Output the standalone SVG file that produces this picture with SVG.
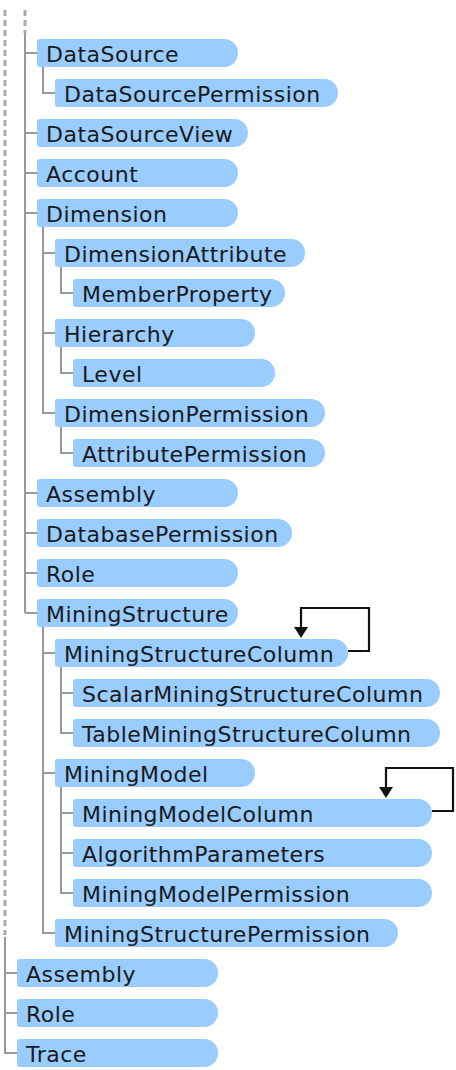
<svg xmlns="http://www.w3.org/2000/svg" width="456" height="1070" viewBox="0 0 456 1070">
<style>
.n{fill:#99ccff}
.t{font-family:"DejaVu Sans",Verdana,sans-serif;font-size:22px;letter-spacing:0.5px;fill:#1a1a1a}
.c{fill:none;stroke:#999;stroke-width:2}
.d{fill:none;stroke:#aaa;stroke-width:3;stroke-dasharray:6 4}
.l{fill:none;stroke:#111;stroke-width:2.2}
.a{fill:#111}
</style>
<rect width="456" height="1070" fill="#fff"/>
<g id="connectors">
<path class="d" d="M5,10V935"/>
<path class="d" d="M25,10V33"/>
<path class="c" d="M25,33V613M25,53H37M25,133H37M25,173H37M25,213H37M25,493H37M25,533H37M25,573H37M25,613H37"/>
<path class="c" d="M43,67V93H55"/>
<path class="c" d="M43,227V413H55M43,253H55M43,333H55"/>
<path class="c" d="M61,267V293H73M61,347V373H73M61,427V453H73"/>
<path class="c" d="M43,627V933H55M43,653H55M43,773H55"/>
<path class="c" d="M61,667V733H73M61,693H73"/>
<path class="c" d="M61,787V893H73M61,813H73M61,853H73"/>
<path class="c" d="M5,937V1053H17M5,973H17M5,1013H17"/>
<path class="l" d="M348,651H369V608H301V628"/>
<polygon class="a" points="294,627 308,627 301,638"/>
<path class="l" d="M432,811H453V768H386V788"/>
<polygon class="a" points="379,787 393,787 386,798"/>
</g>
<g id="n0"><path class="n" d="M40,39H224A14,14 0 0 1 224,67H40A3,3 0 0 1 37,64V42A3,3 0 0 1 40,39Z"/><text class="t" x="46" y="62">DataSource</text></g>
<g id="n1"><path class="n" d="M58,79H324A14,14 0 0 1 324,107H58A3,3 0 0 1 55,104V82A3,3 0 0 1 58,79Z"/><text class="t" x="64" y="102">DataSourcePermission</text></g>
<g id="n2"><path class="n" d="M40,119H234A14,14 0 0 1 234,147H40A3,3 0 0 1 37,144V122A3,3 0 0 1 40,119Z"/><text class="t" x="46" y="142">DataSourceView</text></g>
<g id="n3"><path class="n" d="M40,159H224A14,14 0 0 1 224,187H40A3,3 0 0 1 37,184V162A3,3 0 0 1 40,159Z"/><text class="t" x="46" y="182">Account</text></g>
<g id="n4"><path class="n" d="M40,199H224A14,14 0 0 1 224,227H40A3,3 0 0 1 37,224V202A3,3 0 0 1 40,199Z"/><text class="t" x="46" y="222">Dimension</text></g>
<g id="n5"><path class="n" d="M58,239H291A14,14 0 0 1 291,267H58A3,3 0 0 1 55,264V242A3,3 0 0 1 58,239Z"/><text class="t" x="64" y="262">DimensionAttribute</text></g>
<g id="n6"><path class="n" d="M76,279H271A14,14 0 0 1 271,307H76A3,3 0 0 1 73,304V282A3,3 0 0 1 76,279Z"/><text class="t" x="82" y="302">MemberProperty</text></g>
<g id="n7"><path class="n" d="M58,319H241A14,14 0 0 1 241,347H58A3,3 0 0 1 55,344V322A3,3 0 0 1 58,319Z"/><text class="t" x="64" y="342">Hierarchy</text></g>
<g id="n8"><path class="n" d="M76,359H261A14,14 0 0 1 261,387H76A3,3 0 0 1 73,384V362A3,3 0 0 1 76,359Z"/><text class="t" x="82" y="382">Level</text></g>
<g id="n9"><path class="n" d="M58,399H311A14,14 0 0 1 311,427H58A3,3 0 0 1 55,424V402A3,3 0 0 1 58,399Z"/><text class="t" x="64" y="422">DimensionPermission</text></g>
<g id="n10"><path class="n" d="M76,439H311A14,14 0 0 1 311,467H76A3,3 0 0 1 73,464V442A3,3 0 0 1 76,439Z"/><text class="t" x="82" y="462">AttributePermission</text></g>
<g id="n11"><path class="n" d="M40,479H224A14,14 0 0 1 224,507H40A3,3 0 0 1 37,504V482A3,3 0 0 1 40,479Z"/><text class="t" x="46" y="502">Assembly</text></g>
<g id="n12"><path class="n" d="M40,519H278A14,14 0 0 1 278,547H40A3,3 0 0 1 37,544V522A3,3 0 0 1 40,519Z"/><text class="t" x="46" y="542">DatabasePermission</text></g>
<g id="n13"><path class="n" d="M40,559H224A14,14 0 0 1 224,587H40A3,3 0 0 1 37,584V562A3,3 0 0 1 40,559Z"/><text class="t" x="46" y="582">Role</text></g>
<g id="n14"><path class="n" d="M40,599H224A14,14 0 0 1 224,627H40A3,3 0 0 1 37,624V602A3,3 0 0 1 40,599Z"/><text class="t" x="46" y="622">MiningStructure</text></g>
<g id="n15"><path class="n" d="M58,639H334A14,14 0 0 1 334,667H58A3,3 0 0 1 55,664V642A3,3 0 0 1 58,639Z"/><text class="t" x="64" y="662">MiningStructureColumn</text></g>
<g id="n16"><path class="n" d="M76,679H426A14,14 0 0 1 426,707H76A3,3 0 0 1 73,704V682A3,3 0 0 1 76,679Z"/><text class="t" x="82" y="702">ScalarMiningStructureColumn</text></g>
<g id="n17"><path class="n" d="M76,719H426A14,14 0 0 1 426,747H76A3,3 0 0 1 73,744V722A3,3 0 0 1 76,719Z"/><text class="t" x="82" y="742">TableMiningStructureColumn</text></g>
<g id="n18"><path class="n" d="M58,759H241A14,14 0 0 1 241,787H58A3,3 0 0 1 55,784V762A3,3 0 0 1 58,759Z"/><text class="t" x="64" y="782">MiningModel</text></g>
<g id="n19"><path class="n" d="M76,799H418A14,14 0 0 1 418,827H76A3,3 0 0 1 73,824V802A3,3 0 0 1 76,799Z"/><text class="t" x="82" y="822">MiningModelColumn</text></g>
<g id="n20"><path class="n" d="M76,839H418A14,14 0 0 1 418,867H76A3,3 0 0 1 73,864V842A3,3 0 0 1 76,839Z"/><text class="t" x="82" y="862">AlgorithmParameters</text></g>
<g id="n21"><path class="n" d="M76,879H418A14,14 0 0 1 418,907H76A3,3 0 0 1 73,904V882A3,3 0 0 1 76,879Z"/><text class="t" x="82" y="902">MiningModelPermission</text></g>
<g id="n22"><path class="n" d="M58,919H384A14,14 0 0 1 384,947H58A3,3 0 0 1 55,944V922A3,3 0 0 1 58,919Z"/><text class="t" x="64" y="942">MiningStructurePermission</text></g>
<g id="n23"><path class="n" d="M20,959H204A14,14 0 0 1 204,987H20A3,3 0 0 1 17,984V962A3,3 0 0 1 20,959Z"/><text class="t" x="26" y="982">Assembly</text></g>
<g id="n24"><path class="n" d="M20,999H204A14,14 0 0 1 204,1027H20A3,3 0 0 1 17,1024V1002A3,3 0 0 1 20,999Z"/><text class="t" x="26" y="1022">Role</text></g>
<g id="n25"><path class="n" d="M20,1039H204A14,14 0 0 1 204,1067H20A3,3 0 0 1 17,1064V1042A3,3 0 0 1 20,1039Z"/><text class="t" x="26" y="1062">Trace</text></g>
</svg>
